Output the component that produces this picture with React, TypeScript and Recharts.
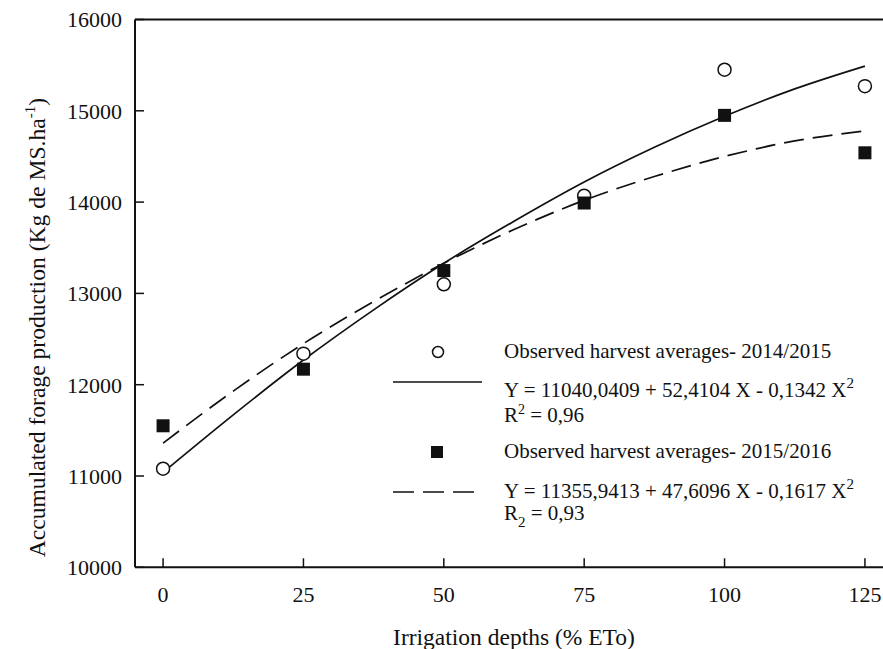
import React from "react";
import {
  ComposedChart,
  Line,
  Scatter,
  XAxis,
  YAxis,
  ReferenceLine,
  Label,
} from "recharts";

const FONT = "'Liberation Serif', 'Times New Roman', serif";
const INK = "#111";

// observed harvest averages
const depths = [0, 25, 50, 75, 100, 125];
const harvest2014 = [11080, 12340, 13100, 14070, 15450, 15270];
const harvest2015 = [11550, 12170, 13250, 13990, 14950, 14540];

// fitted curves
const fitDepths = [0, 12.5, 25, 37.5, 50, 62.5, 75, 87.5, 100, 112.5, 125];
const fit2014 = [11040, 11670, 12270, 12820, 13330, 13790, 14220, 14600, 14940, 15240, 15490];
const fit2015 = [11360, 11930, 12450, 12910, 13330, 13700, 14020, 14280, 14500, 14670, 14780];

const xTicks = [0, 25, 50, 75, 100, 125];
const yTicks = [10000, 11000, 12000, 13000, 14000, 15000, 16000];

const toPoints = (xs: number[], ys: number[]) =>
  xs.map((x, i) => ({ x, y: ys[i] }));

const obsA = toPoints(depths, harvest2014);
const obsB = toPoints(depths, harvest2015);
const curveA = toPoints(fitDepths, fit2014);
const curveB = toPoints(fitDepths, fit2015);

const OpenCircle = (p: any) => (
  <circle cx={p.cx} cy={p.cy} r={6.5} fill="#fff" stroke={INK} strokeWidth={1.5} />
);
const FilledSquare = (p: any) => (
  <rect x={p.cx - 6.5} y={p.cy - 6.5} width={13} height={13} fill={INK} />
);

const tickStyle = { fontFamily: FONT, fontSize: 22, fill: INK, style: { fontFamily: FONT } };

const YTitle = (props: any) => {
  const vb = props.viewBox || {};
  const y0 = vb.y + vb.height - 10;
  return (
    <text
      x={45}
      y={y0}
      transform={`rotate(-90, 45, ${y0})`}
      textAnchor="start"
      fontFamily={FONT}
      style={{ fontFamily: FONT }}
      fontSize={23.6}
      fill={INK}
    >
      Accumulated forage production (Kg de MS.ha
      <tspan dy={-10} fontSize={15}>-1</tspan>
      <tspan dy={10}>)</tspan>
    </text>
  );
};

const XTitle = (props: any) => {
  const vb = props.viewBox || {};
  return (
    <text
      x={vb.x + vb.width / 2}
      y={645}
      textAnchor="middle"
      fontFamily={FONT}
      style={{ fontFamily: FONT }}
      fontSize={23.5}
      fill={INK}
    >
      Irrigation depths (% ETo)
    </text>
  );
};

const LegendBox = () => (
  <svg
    width={883}
    height={649}
    style={{ position: "absolute", left: 0, top: 0, pointerEvents: "none", fontFamily: FONT }}
    fontSize={21}
    fill={INK}
  >
    <circle cx={438} cy={352} r={5.5} fill="#fff" stroke={INK} strokeWidth={1.5} />
    <text x={504} y={358}>Observed harvest averages- 2014/2015</text>
    <line x1={393} x2={482} y1={382} y2={382} stroke={INK} strokeWidth={1.6} />
    <text x={504} y={397}>
      Y = 11040,0409 + 52,4104 X - 0,1342 X
      <tspan dy={-9} fontSize={15}>2</tspan>
    </text>
    <text x={504} y={422}>
      R<tspan dy={-8} fontSize={14}>2</tspan>
      <tspan dy={8}>{" = 0,96"}</tspan>
    </text>
    <rect x={431} y={446} width={12} height={12} fill={INK} />
    <text x={504} y={458}>Observed harvest averages- 2015/2016</text>
    <line
      x1={393}
      x2={475}
      y1={492}
      y2={492}
      stroke={INK}
      strokeWidth={1.6}
      strokeDasharray="21 9"
    />
    <text x={504} y={498}>
      Y = 11355,9413 + 47,6096 X - 0,1617 X
      <tspan dy={-9} fontSize={15}>2</tspan>
    </text>
    <text x={504} y={520}>
      R<tspan dy={7} fontSize={15}>2</tspan>
      <tspan dy={-7}>{" = 0,93"}</tspan>
    </text>
  </svg>
);

export default function App() {
  return (
    <div
      style={{
        position: "absolute",
        left: 0,
        top: 0,
        width: 883,
        height: 649,
        overflow: "hidden",
        background: "#fff",
      }}
    >
      <ComposedChart
        width={900}
        height={649}
        margin={{ top: 19.5, right: 7, bottom: 0, left: 0 }}
      >
        <XAxis
          dataKey="x"
          type="number"
          domain={[-5, 130]}
          ticks={xTicks}
          interval={0}
          allowDataOverflow
          height={81.7}
          axisLine={{ stroke: INK, strokeWidth: 2 }}
          tickLine={{ stroke: INK, strokeWidth: 1.5 }}
          tickSize={-9}
          tickMargin={28}
          tick={tickStyle}
        >
          <Label content={<XTitle />} />
        </XAxis>
        <YAxis
          type="number"
          domain={[10000, 16000]}
          ticks={yTicks}
          interval={0}
          allowDataOverflow
          width={135}
          axisLine={{ stroke: INK, strokeWidth: 2 }}
          tickLine={{ stroke: INK, strokeWidth: 1.5 }}
          tickSize={-9}
          tickMargin={22}
          tick={tickStyle}
        >
          <Label content={<YTitle />} />
        </YAxis>
        <ReferenceLine y={16000} stroke={INK} strokeWidth={2} />
        <Line
          data={curveA}
          dataKey="y"
          type="monotone"
          dot={false}
          activeDot={false}
          stroke={INK}
          strokeWidth={1.7}
          isAnimationActive={false}
        />
        <Line
          data={curveB}
          dataKey="y"
          type="monotone"
          dot={false}
          activeDot={false}
          stroke={INK}
          strokeWidth={1.7}
          strokeDasharray="20 9"
          isAnimationActive={false}
        />
        <Scatter
          data={obsA}
          dataKey="y"
          shape={OpenCircle}
          isAnimationActive={false}
        />
        <Scatter
          data={obsB}
          dataKey="y"
          shape={FilledSquare}
          isAnimationActive={false}
        />
      </ComposedChart>
      <LegendBox />
    </div>
  );
}
